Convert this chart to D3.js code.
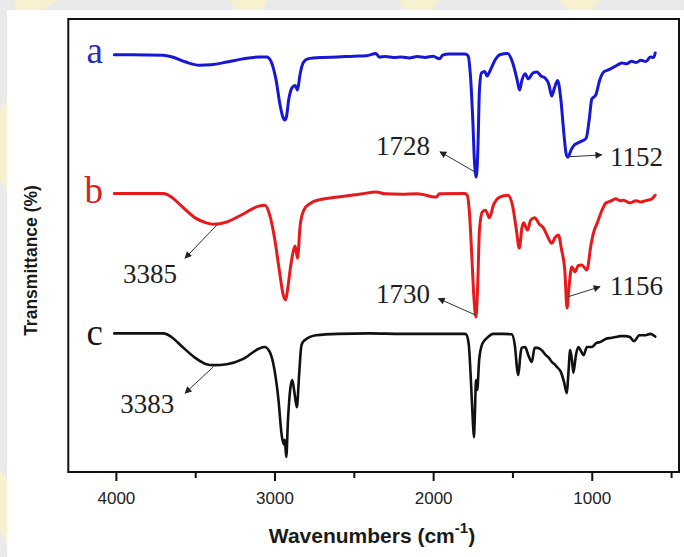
<!DOCTYPE html>
<html><head><meta charset="utf-8">
<script src="https://cdn.jsdelivr.net/npm/d3@7"></script>
<style>html,body{margin:0;padding:0;background:#e9ebea;}svg{display:block;}</style>
</head><body>
<script>
// ---------- DATA (wavenumber cm-1, transmittance a.u.) ----------
const xTicks = [4000, 3500, 3000, 2500, 2000, 1500, 1000, 500];
const xTickLabels = ["4000", "", "3000", "", "2000", "", "1000", ""];
const seriesNames = ["a", "b", "c"];
const seriesA = [
[4010,92.1],[3900,92.1],[3700,92.0],[3644,91.6],[3560,90.5],[3474,89.8],[3400,89.9],[3300,90.5],[3200,91.2],[3100,91.6],[3050,91.6],
[3020,90.5],[2990,86.5],[2965,81.0],[2945,78.1],[2935,77.7],[2925,78.4],[2910,82.3],[2890,84.8],[2870,85.3],[2855,84.3],[2840,87.6],
[2820,90.3],[2790,91.2],[2700,91.5],[2600,91.6],[2500,91.8],[2420,91.9],[2360,92.4],[2340,91.6],[2300,91.7],[2250,91.5],[2200,91.6],
[2150,91.4],[2100,91.7],[2050,91.5],[2000,91.8],[1960,91.2],[1940,92.0],[1900,92.3],[1800,92.3],[1780,91.9],[1765,87.6],[1750,77.7],
[1740,68.9],[1728,65.1],[1718,71.1],[1708,84.3],[1695,88.1],[1675,88.4],[1660,87.4],[1645,88.3],[1610,90.9],[1580,92.1],[1530,92.4],
[1500,90.5],[1470,86.5],[1455,84.3],[1440,86.5],[1420,87.9],[1400,86.8],[1370,88.1],[1345,88.3],[1320,87.4],[1295,87.0],[1270,85.5],
[1252,83.0],[1235,84.8],[1215,86.4],[1195,82.3],[1175,74.4],[1160,70.0],[1150,69.5],[1130,71.1],[1110,72.2],[1090,72.6],[1060,73.1],
[1035,73.7],[1015,78.1],[1000,82.3],[975,83.2],[950,86.5],[925,88.3],[900,88.7],[870,89.2],[840,89.8],[810,90.3],[780,90.1],[750,90.7],
[720,90.4],[690,90.9],[660,90.6],[630,91.6],[610,91.5],[600,92.5]];
const seriesB = [
[4010,61.5],[3700,61.5],[3650,60.7],[3580,58.5],[3500,56.1],[3430,55.0],[3385,54.7],[3300,55.2],[3200,56.9],[3100,58.7],[3060,58.9],
[3030,56.7],[3000,51.7],[2970,44.6],[2945,39.1],[2930,38.0],[2918,40.2],[2900,45.0],[2880,49.0],[2870,49.9],[2855,47.2],[2838,54.5],
[2815,57.8],[2770,59.4],[2716,60.1],[2600,60.7],[2450,61.4],[2360,61.8],[2300,61.4],[2200,61.3],[2100,61.4],[1980,60.7],[1960,61.4],
[1800,61.5],[1785,61.1],[1770,56.7],[1755,46.8],[1742,38.0],[1730,34.2],[1720,40.2],[1708,53.4],[1690,57.4],[1670,57.8],[1645,56.1],
[1620,58.9],[1580,60.7],[1530,61.1],[1500,58.9],[1475,53.4],[1457,49.4],[1440,53.9],[1430,55.0],[1405,53.4],[1385,55.6],[1360,56.1],
[1330,54.7],[1305,53.9],[1280,52.1],[1252,50.5],[1232,51.7],[1210,52.3],[1190,49.0],[1170,44.6],[1156,36.2],[1145,40.2],[1126,45.3],
[1105,44.2],[1085,45.6],[1063,45.7],[1031,44.6],[1005,50.1],[989,52.8],[965,55.0],[940,57.4],[911,59.4],[880,59.8],[850,60.3],
[820,59.9],[800,60.0],[760,59.4],[720,59.9],[690,59.6],[660,59.9],[620,60.3],[600,61.1]];
const seriesC = [
[4010,30.6],[3700,30.6],[3650,29.8],[3580,27.6],[3500,25.2],[3430,23.8],[3383,23.6],[3300,23.8],[3200,24.9],[3100,27.2],[3063,27.6],
[3030,26.5],[3000,22.5],[2975,15.9],[2955,8.2],[2940,6.0],[2935,7.1],[2926,3.3],[2915,11.5],[2900,18.5],[2888,20.3],[2875,17.7],
[2859,14.3],[2845,21.4],[2830,28.0],[2810,29.1],[2737,30.2],[2600,30.5],[2400,30.6],[2200,30.5],[2000,30.5],[1800,30.5],[1790,30.3],
[1775,28.0],[1762,20.3],[1750,11.5],[1743,7.7],[1736,13.7],[1730,20.3],[1722,18.1],[1710,24.7],[1690,28.3],[1660,29.6],[1621,30.5],
[1560,30.5],[1505,30.4],[1485,28.0],[1470,22.5],[1463,21.4],[1450,25.8],[1442,27.4],[1420,27.6],[1400,25.8],[1378,24.3],[1360,27.4],
[1340,27.4],[1316,26.9],[1290,25.8],[1270,25.2],[1252,24.3],[1235,23.8],[1220,23.2],[1195,22.1],[1175,19.9],[1157,17.4],[1148,21.4],
[1136,26.9],[1125,24.7],[1116,21.9],[1100,25.8],[1084,27.6],[1065,26.5],[1052,25.8],[1030,27.6],[1000,27.6],[970,28.5],[946,28.7],
[910,29.4],[880,29.6],[850,29.8],[820,30.0],[790,30.0],[760,29.8],[735,28.9],[726,29.1],[700,30.2],[660,30.2],[631,30.5],[600,29.9]];
// series label anchors [wavenumber, value]
const seriesLabelAt = [[4081,90.3],[4081,59.4],[4081,28.0]];
// peak annotations: text, line start (on curve), arrow tip, text anchor point
const peakText = ["1728","1152","3385","1730","1156","3383"];
const peakFrom = [[1725,66.0],[1137,69.6],[3364,54.5],[1736,34.7],[1148,38.7],[3386,23.2]];
const peakTip  = [[1957,70.7],[937,70.0],[3564,47.2],[1967,38.3],[948,40.9],[3564,17.4]];
const peakTextAt = [[2020,70.0],[885,67.5],[3955,41.7],[2020,37.3],[885,39.1],[3973,13.0]];
const peakAnchor = ["end","start","start","end","start","start"];

// ---------- LAYOUT ----------
const W = 684, H = 557;
const L = 68.3, R = 679, T = 19, B = 472;
const colors = ["#1717d6", "#e8191b", "#111111"];
const labelColors = ["#2b2bbf", "#d9201f", "#1a1a1a"];

const svg = d3.select("body").append("svg").attr("width", W).attr("height", H);

// background: gray with faint watermark, white panel
const bg = svg.append("g");
bg.append("rect").attr("width", W).attr("height", H).attr("fill", "#e9ebea");
const wm = [[[14,0],[60,0],[40,10],[20,18]],[[230,0],[268,0],[262,10],[236,10]],[[398,0],[440,0],[432,10],[404,10]],
            [[560,0],[600,0],[592,10],[566,10]],[[0,110],[7,100],[7,190],[0,180]],[[0,470],[7,480],[7,545],[0,530]]];
bg.selectAll("path.wm").data(wm).join("path").attr("class","wm")
  .attr("d", d => "M" + d.join("L") + "Z").attr("fill", "#fbf2c8").attr("opacity", 0.8);
bg.append("rect").attr("x", 7).attr("y", 10).attr("width", W - 7).attr("height", H - 10).attr("fill", "#ffffff");

const x = d3.scaleLinear().domain([4300, 450]).range([L, R]);
const y = d3.scaleLinear().domain([0, 100]).range([B, T]);

// spectra
const line = d3.line().x(d => x(d[0])).y(d => y(d[1])).curve(d3.curveMonotoneX);
const allSeries = [seriesA, seriesB, seriesC];
svg.append("g").selectAll("path").data(allSeries).join("path")
  .attr("d", line).attr("fill", "none")
  .attr("stroke", (d, i) => colors[i]).attr("stroke-width", (d, i) => i === 2 ? 2.6 : 3)
  .attr("stroke-linejoin", "round").attr("stroke-linecap", "round");

// series labels
svg.append("g").selectAll("text").data(seriesNames).join("text")
  .attr("x", (d, i) => x(seriesLabelAt[i][0])).attr("y", (d, i) => y(seriesLabelAt[i][1]))
  .attr("text-anchor", "end").attr("font-family", "'Liberation Serif', 'DejaVu Serif', serif")
  .attr("font-size", 37).attr("fill", (d, i) => labelColors[i]).text(d => d);

// arrows
svg.append("defs").append("marker").attr("id", "ah").attr("viewBox", "0 0 10 10")
  .attr("refX", 9).attr("refY", 5).attr("markerWidth", 9).attr("markerHeight", 7)
  .attr("markerUnits", "userSpaceOnUse").attr("orient", "auto")
  .append("path").attr("d", "M0,0L10,5L0,10Z").attr("fill", "#222");
const ann = svg.append("g");
ann.selectAll("line").data(peakText).join("line")
  .attr("x1", (d, i) => x(peakFrom[i][0])).attr("y1", (d, i) => y(peakFrom[i][1]))
  .attr("x2", (d, i) => x(peakTip[i][0])).attr("y2", (d, i) => y(peakTip[i][1]))
  .attr("stroke", "#333").attr("stroke-width", 1).attr("marker-end", "url(#ah)");
ann.selectAll("text").data(peakText).join("text")
  .attr("x", (d, i) => x(peakTextAt[i][0])).attr("y", (d, i) => y(peakTextAt[i][1]))
  .attr("text-anchor", (d, i) => peakAnchor[i])
  .attr("font-family", "'Liberation Serif', 'DejaVu Serif', serif").attr("font-size", 27)
  .attr("fill", "#1e1e1e").text(d => d);

// frame
svg.append("rect").attr("x", L).attr("y", T).attr("width", R - L).attr("height", B - T)
  .attr("fill", "none").attr("stroke", "#111").attr("stroke-width", 2);

// x axis
const axis = d3.axisBottom(x).tickValues(xTicks).tickSizeInner(9).tickSizeOuter(0).tickPadding(11)
  .tickFormat((d, i) => xTickLabels[i]);
const gx = svg.append("g").attr("transform", `translate(0,${B})`).call(axis);
gx.select(".domain").remove();
gx.selectAll(".tick line").attr("stroke", "#111").attr("stroke-width", 2)
  .attr("y2", (d, i) => xTickLabels[i] ? 9 : 6);
gx.selectAll(".tick text").attr("font-family", "'Liberation Sans', Arial, sans-serif")
  .attr("font-size", 17).attr("fill", "#222");

// axis titles
const xt = svg.append("text").attr("x", 372).attr("y", 543).attr("text-anchor", "middle")
  .attr("font-family", "'Liberation Sans', Arial, sans-serif").attr("font-weight", "bold")
  .attr("font-size", 21).attr("fill", "#1a1a1a");
xt.append("tspan").text("Wavenumbers (cm");
xt.append("tspan").attr("dy", -10).attr("font-size", 15).text("-1");
xt.append("tspan").attr("dy", 10).text(")");

svg.append("text").attr("transform", `translate(37,${(T + B) / 2 + 15}) rotate(-90)`)
  .attr("text-anchor", "middle").attr("font-family", "'Liberation Sans', Arial, sans-serif")
  .attr("font-weight", "bold").attr("font-size", 17.5).attr("fill", "#1a1a1a")
  .text("Transmittance (%)");
</script>
</body></html>
